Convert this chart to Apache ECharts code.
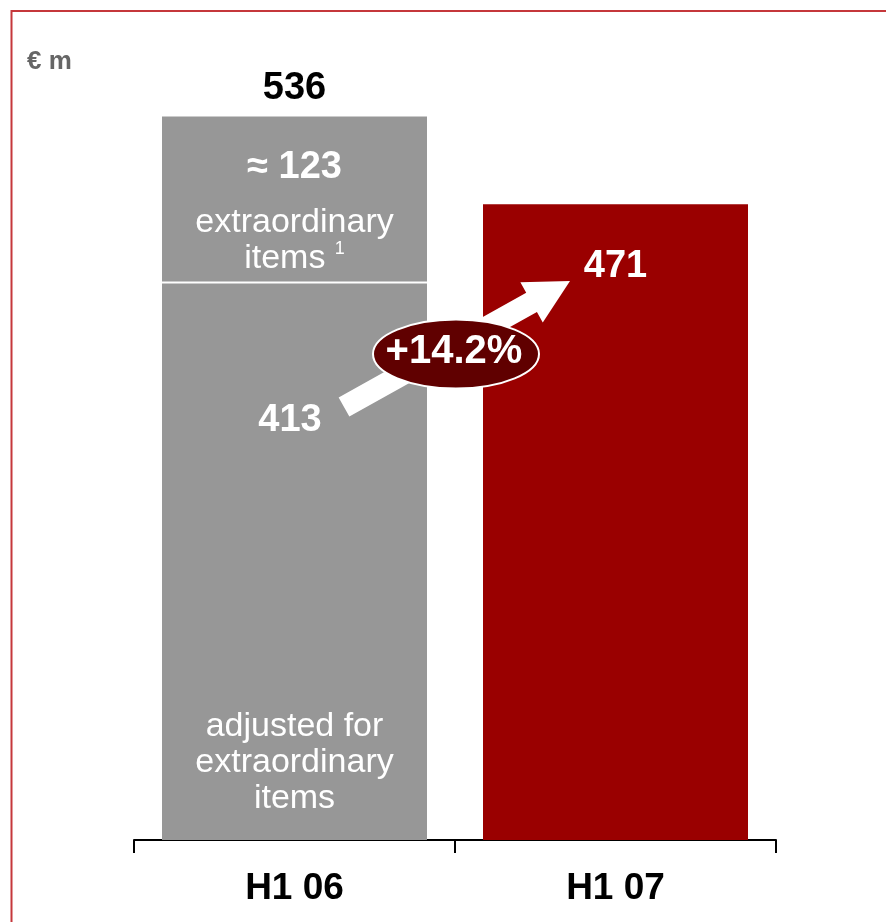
<!DOCTYPE html>
<html>
<head>
<meta charset="utf-8">
<title>H1 06 vs H1 07</title>
<script src="https://cdn.jsdelivr.net/npm/echarts@6/dist/echarts.min.js"></script>
<style>
  html, body { margin: 0; padding: 0; background: #fff; }
  #chart { width: 886px; height: 922px; }
</style>
</head>
<body>
<div id="chart"></div>
<script>
// Half-year figures, € m
const categories = ['H1 06', 'H1 07'];
const adjusted = [413, '-'];          // adjusted for extraordinary items
const extraordinary = [123, '-'];     // extraordinary items (approx.)
const reported = ['-', 471];          // H1 07
const growthLabel = '+14.2%';
const unitLabel = '€ m';

const totalH106 = adjusted[0] + extraordinary[0];

const FONT = '"Liberation Sans", Arial, Helvetica, sans-serif';
const GREY = '#979797';
const RED = '#9a0000';
const BAR_WIDTH = 265;

const chart = echarts.init(document.getElementById('chart'), null, { renderer: 'canvas' });

// White arrow from the 413 bar towards the 471 bar
function arrowPoints() {
  const S = [344, 407], T = [570, 281];
  const dx = T[0] - S[0], dy = T[1] - S[1];
  const len = Math.hypot(dx, dy);
  const u = [dx / len, dy / len];
  const n = [-u[1], u[0]];
  const w = 11, headLen = 44, headW = 23;
  const B = [T[0] - headLen * u[0], T[1] - headLen * u[1]];
  const p = (base, k) => [base[0] + k * n[0], base[1] + k * n[1]];
  return [p(S, w), p(S, -w), p(B, -w), p(B, -headW), T, p(B, headW), p(B, w)];
}

const decorations = [
  {
    type: 'rect',
    silent: true,
    z: 1,
    shape: { x: 11.5, y: 11, width: 1000, height: 1000 },
    style: { fill: 'none', stroke: '#c5373b', lineWidth: 2 }
  },
  {
    type: 'polygon',
    silent: true,
    z: 100,
    shape: { points: arrowPoints() },
    style: { fill: '#fff' }
  },
  {
    type: 'ellipse',
    silent: true,
    z: 101,
    shape: { cx: 456, cy: 354, rx: 83, ry: 34.5 },
    style: { fill: '#600000', stroke: '#fff', lineWidth: 2 }
  },
  {
    type: 'text',
    silent: true,
    z: 102,
    x: 454,
    y: 352,
    style: {
      text: growthLabel,
      fill: '#fff',
      fontFamily: FONT, fontSize: 40, fontWeight: 'bold',
      align: 'center', verticalAlign: 'middle'
    }
  }
];

chart.setOption({
  animation: false,
  backgroundColor: '#fff',
  title: {
    text: unitLabel,
    left: 27,
    top: 49,
    padding: 0,
    textStyle: { fontFamily: FONT, fontSize: 26, fontWeight: 'bold', color: '#666', lineHeight: 26 }
  },
  grid: { left: 134, right: 110, top: 30, bottom: 82 },
  xAxis: {
    type: 'category',
    data: categories,
    axisLine: { lineStyle: { color: '#000', width: 2 } },
    axisTick: { show: true, length: 13, lineStyle: { color: '#000', width: 2 } },
    axisLabel: {
      fontFamily: FONT, fontSize: 37, fontWeight: 'bold', color: '#000',
      lineHeight: 40, margin: 29
    }
  },
  yAxis: { type: 'value', min: 0, max: 600, show: false, splitLine: { show: false } },
  series: [
    {
      name: 'adjusted for extraordinary items',
      type: 'bar',
      stack: 'total',
      barWidth: BAR_WIDTH,
      data: adjusted,
      itemStyle: { color: GREY },
      label: {
        show: true,
        formatter: '{c}',
        position: [128, 138],
        align: 'center',
        verticalAlign: 'middle',
        fontFamily: FONT, fontSize: 38, fontWeight: 'bold', color: '#fff'
      },
      markPoint: {
        symbol: 'circle',
        symbolSize: 0,
        data: [{ coord: [categories[0], 57], value: 0 }],
        label: {
          show: true,
          position: 'inside',
          formatter: 'adjusted for\nextraordinary\nitems',
          fontFamily: FONT, fontSize: 34, lineHeight: 36, color: '#fff', align: 'center'
        }
      }
    },
    {
      name: 'extraordinary items',
      type: 'bar',
      stack: 'total',
      barWidth: BAR_WIDTH,
      data: extraordinary,
      itemStyle: { color: GREY },
      label: {
        show: true,
        position: 'insideTop',
        distance: 14,
        formatter: '{big|≈ {c}}\n{small|extraordinary}\n{small|items }{sup|1}',
        rich: {
          big: { fontFamily: FONT, fontSize: 38, fontWeight: 'bold', color: '#fff', lineHeight: 74 },
          small: { fontFamily: FONT, fontSize: 34, color: '#fff', lineHeight: 36 },
          sup: { fontFamily: FONT, fontSize: 18, color: '#fff', lineHeight: 24, verticalAlign: 'top' }
        }
      },
      markPoint: {
        symbol: 'circle',
        symbolSize: 0,
        data: [{ coord: [categories[0], totalH106], value: totalH106 }],
        label: {
          show: true,
          position: 'top',
          distance: 8,
          formatter: '{c}',
          fontFamily: FONT, fontSize: 38, fontWeight: 'bold', color: '#000', lineHeight: 40
        }
      }
    },
    {
      name: 'H1 07',
      type: 'bar',
      stack: 'total',
      barWidth: BAR_WIDTH,
      data: reported,
      itemStyle: { color: RED },
      label: {
        show: true,
        position: 'insideTop',
        distance: 42,
        formatter: '{c}',
        fontFamily: FONT, fontSize: 38, fontWeight: 'bold', color: '#fff', lineHeight: 40
      }
    }
  ],
  graphic: decorations
});

// White divider between the two stacked H1 06 segments, placed on the axis scales
const dividerY = chart.convertToPixel({ yAxisIndex: 0 }, adjusted[0]);
const barCenterX = chart.convertToPixel({ xAxisIndex: 0 }, categories[0]);
chart.setOption({
  graphic: decorations.concat([{
    type: 'line',
    silent: true,
    z: 50,
    shape: {
      x1: barCenterX - BAR_WIDTH / 2, y1: dividerY,
      x2: barCenterX + BAR_WIDTH / 2, y2: dividerY
    },
    style: { stroke: '#fff', lineWidth: 2 }
  }])
});
</script>
</body>
</html>
